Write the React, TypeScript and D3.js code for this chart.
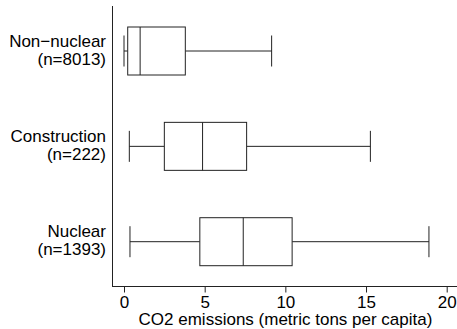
import React, { useEffect, useRef } from 'react';
import * as d3 from 'd3';

// groups from top to bottom
const groups = ['Non−nuclear', 'Construction', 'Nuclear'];
const counts = ['(n=8013)', '(n=222)', '(n=1393)'];
const mins = [0.0, 0.33, 0.37];
const q1s = [0.23, 2.5, 4.7];
const medians = [1.0, 4.87, 7.39];
const q3s = [3.8, 7.6, 10.42];
const maxs = [9.15, 15.27, 18.9];
const xTicks = [0, 5, 10, 15, 20];

const App = () => {
  const svgRef = useRef<SVGSVGElement>(null);

  useEffect(() => {
    const width = 457;
    const height = 329;
    const axisX = 112;
    const axisY = 286;
    const font = 'Liberation Sans, Arial, sans-serif';

    const svg = d3.select(svgRef.current);
    svg.selectAll('*').remove();
    svg.attr('width', width).attr('height', height);

    const x = d3.scaleLinear().domain([0, 20]).range([124, 446.7]);
    const y = d3.scalePoint<string>().domain(groups).range([51, 241.7]);

    const boxH = 48;
    const capH = 31;
    const stroke = '#222';

    const g = svg.append('g');
    groups.forEach((name, i) => {
      const cy = y(name)!;
      // whiskers
      g.append('line')
        .attr('x1', x(mins[i])).attr('x2', x(q1s[i]))
        .attr('y1', cy).attr('y2', cy)
        .attr('stroke', stroke);
      g.append('line')
        .attr('x1', x(q3s[i])).attr('x2', x(maxs[i]))
        .attr('y1', cy).attr('y2', cy)
        .attr('stroke', stroke);
      // caps
      [mins[i], maxs[i]].forEach(v => {
        g.append('line')
          .attr('x1', x(v)).attr('x2', x(v))
          .attr('y1', cy - capH / 2).attr('y2', cy + capH / 2)
          .attr('stroke', stroke);
      });
      // box
      g.append('rect')
        .attr('x', x(q1s[i]))
        .attr('y', cy - boxH / 2)
        .attr('width', x(q3s[i]) - x(q1s[i]))
        .attr('height', boxH)
        .attr('fill', 'white')
        .attr('stroke', stroke);
      g.append('line')
        .attr('x1', x(medians[i])).attr('x2', x(medians[i]))
        .attr('y1', cy - boxH / 2).attr('y2', cy + boxH / 2)
        .attr('stroke', stroke);

      // labels, two lines each
      [name, counts[i]].forEach((t, k) => {
        svg.append('text')
          .attr('x', 106)
          .attr('y', cy - 4.5 + k * 18)
          .attr('text-anchor', 'end')
          .attr('font-family', font)
          .attr('font-size', 17)
          .attr('fill', '#000')
          .text(t);
      });
    });

    // y axis line
    svg.append('line')
      .attr('x1', axisX + 0.5).attr('x2', axisX + 0.5)
      .attr('y1', 6).attr('y2', axisY + 0.5)
      .attr('stroke', stroke);

    // x axis
    const xAxis = svg.append('g')
      .attr('transform', `translate(0,${axisY + 0.5})`)
      .call(d3.axisBottom(x).tickValues(xTicks).tickSize(6).tickSizeOuter(0).tickPadding(3));
    xAxis.select('.domain').remove();
    xAxis.append('line')
      .attr('x1', axisX).attr('x2', width)
      .attr('stroke', stroke);
    xAxis.selectAll('line').attr('stroke', stroke);
    xAxis.selectAll('text')
      .attr('font-family', font)
      .attr('font-size', 17)
      .attr('fill', '#000');

    svg.append('text')
      .attr('x', 285.5)
      .attr('y', 325)
      .attr('text-anchor', 'middle')
      .attr('font-family', font)
      .attr('font-size', 17)
      .attr('fill', '#000')
      .text('CO2 emissions (metric tons per capita)');
  }, []);

  return (
    <svg ref={svgRef} style={{ position: 'absolute', left: 0, top: 0, background: 'white' }}></svg>
  );
};

export default App;
